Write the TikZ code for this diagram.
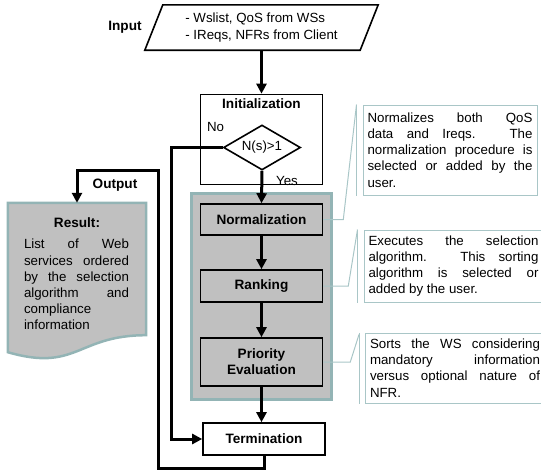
\documentclass[tikz,border=0pt]{standalone}
\usepackage{fontspec}
\setmainfont{Liberation Sans}
\usetikzlibrary{arrows.meta,calc,shapes.geometric}
\definecolor{boxgray}{HTML}{C0C0C0}
\definecolor{frame}{HTML}{93B4B5}
\definecolor{notecol}{HTML}{A9C6C7}
\hyphenpenalty=10000
\tolerance=10000
\hbadness=10000

\begin{document}
\begin{tikzpicture}[x=1pt,y=-1pt,
    >={Triangle[length=10pt,width=10pt]},
    every node/.style={font=\fontsize{13.3}{16.2}\selectfont, inner sep=0pt},
    title/.style={font=\fontsize{13.6}{16.2}\selectfont\bfseries},
    stepbox/.style={draw, line width=1.6pt, minimum width=122pt},
    flow/.style={->, line width=3pt},
    note/.style={draw=notecol, line width=1pt, align=justify, inner xsep=4.5pt, anchor=west},
    leader/.style={draw=notecol, line width=1pt}]
  \useasboundingbox (0,0) rectangle (541,474);

  % input
  \node[minimum width=215pt, minimum height=45pt, align=left] (Input) at (261.5,27.5) {- Wslist, QoS from WSs\\- IReqs, NFRs from Client};
  \draw[line width=1.6pt] ([xshift=-9pt]Input.south west) -- ([xshift=9pt]Input.north west) -- ([xshift=9pt]Input.north east) -- ([xshift=-9pt]Input.south east) -- cycle;
  \node[title] (InputLabel) at (125,27) {Input};

  % initialization
  \node[stepbox, minimum height=90pt] (Initialization) at (261.5,139.5) {};
  \node[title] (InitTitle) at (261.5,104) {Initialization};
  \node[draw, diamond, aspect=1.7, line width=1.6pt, minimum width=77pt, minimum height=45pt] (Decision) at (262,147.5) {N(s)>1};
  \node (No) at (215.5,127) {No};
  \node (Yes) at (287,181) {Yes};

  % core steps
  \node[draw=frame, line width=3pt, fill=boxgray, minimum width=140pt, minimum height=206pt] (Core) at (261.5,296.5) {};
  \node[stepbox, fill=boxgray, minimum height=31pt, title] (Normalization) at (261.5,219.5) {Normalization};
  \node[stepbox, fill=boxgray, minimum height=32pt, title] (Ranking) at (261.5,286) {Ranking};
  \node[stepbox, fill=boxgray, minimum height=48pt, title, align=center] (Priority) at (261.5,362) {Priority\\Evaluation};
  \node[stepbox, fill=white, minimum height=32pt, title] (Termination) at (264,439) {Termination};

  % result
  \node[minimum width=138pt, minimum height=132pt] (Result) at (77,269) {};
  \draw[draw=frame, line width=2.5pt, fill=boxgray] (Result.north west) -- (Result.north east) -- (Result.south east)
    .. controls (Result.south) and ($(Result.south)+(0,37)$) .. ($(Result.south west)+(0,17)$) -- cycle;
  \node[title] (ResultTitle) at (77,223) {Result:};
  \node[text width=105pt, align=justify, anchor=north] (ResultText) at (76.5,239) {List of Web\linebreak services ordered\linebreak by the selection\linebreak algorithm and\linebreak compliance\linebreak information};
  \node[title] (OutputLabel) at (115,185) {Output};

  % notes
  \node[note, text width=165pt, minimum height=90pt] (NoteNorm) at (362.5,150) {Normalizes both QoS\linebreak data and Ireqs. The\linebreak normalization procedure is\linebreak selected or added by the\linebreak user.};
  \node[note, text width=170pt, minimum height=72pt] (NoteRank) at (363.5,266) {Executes the selection\linebreak algorithm. This sorting\linebreak algorithm is selected or\linebreak added by the user.};
  \node[note, text width=170pt, minimum height=70pt] (NotePrio) at (365,368) {Sorts the WS considering\linebreak mandatory information\linebreak versus optional nature of\linebreak NFR.};
  \foreach \n in {NoteNorm,NoteRank,NotePrio}
    \draw[leader] ([xshift=-6pt]\n.north west) -- ([xshift=-6pt]\n.south west);
  \draw[leader] (Normalization.east) -- ++(20,0) -- ([xshift=-6pt]NoteNorm.north west);
  \draw[leader] (Ranking.east) -- ++(25,0) -- ([xshift=-6pt]NoteRank.north west);
  \draw[leader] (Priority.east) -- ++(27,0) -- ([xshift=-6pt,yshift=-2pt]NotePrio.north west);

  % connectors
  \coordinate (NoTurn) at (171,300);
  \coordinate (OutBottom) at (158,468);
  \coordinate (OutCorner) at (158,170);
  \draw[flow] (Input.south) -- (Initialization.north);
  \draw[flow] (Decision.south) -- (Normalization.north);
  \draw[flow] (Normalization) -- (Ranking);
  \draw[flow] (Ranking) -- (Priority);
  \draw[flow] (Priority.south) -- (Priority.south |- Termination.north);
  \draw[flow] (Decision.west) -- (Decision.west -| NoTurn) -- (NoTurn |- Termination.west) -- (Termination.west);
  \draw[flow] (Termination.south) |- (OutBottom) -- (OutCorner) -| (Result.north);
\end{tikzpicture}
\end{document}
